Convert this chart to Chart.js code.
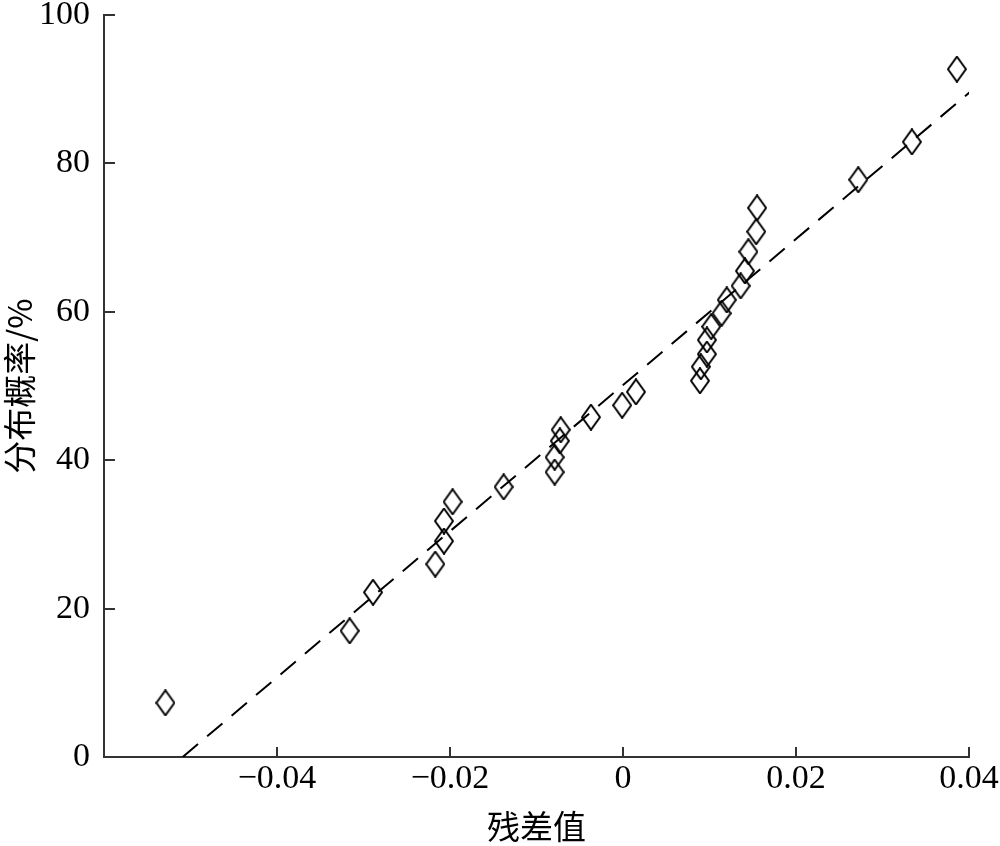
<!DOCTYPE html>
<html>
<head>
<meta charset="utf-8">
<title>残差正态概率图</title>
<script src="https://cdn.jsdelivr.net/npm/chart.js@4/dist/chart.umd.min.js"></script>
<style>
  html, body { margin: 0; padding: 0; background: #fff; }
  #wrap { width: 1000px; height: 846px; }
</style>
</head>
<body>
<div id="wrap"><canvas id="chart"></canvas></div>
<script>
// 残差值（横轴）
const residuals = [
  -0.0529, -0.0316, -0.0289, -0.0217, -0.0207, -0.0207, -0.0197, -0.0138,
  -0.0079, -0.0079, -0.0073, -0.0072, -0.0037, -0.0001, 0.0015, 0.0089,
  0.0090, 0.0097, 0.0097, 0.0102, 0.0114, 0.0120, 0.0136, 0.0141,
  0.0145, 0.0154, 0.0155, 0.0272, 0.0334, 0.0386
];
// 分布概率 %（纵轴）
const probabilities = [
  7.3, 17.0, 22.2, 26.0, 29.1, 31.8, 34.4, 36.4,
  38.4, 40.4, 42.6, 44.1, 45.8, 47.4, 49.2, 50.7,
  52.6, 54.3, 56.2, 58.0, 59.8, 61.6, 63.5, 65.5,
  68.1, 70.8, 74.0, 77.8, 82.9, 92.7
];
// 参考直线两端
const fitX = [-0.0509, 0.0405];
const fitY = [0, 90];

const xTickValues = [-0.04, -0.02, 0, 0.02, 0.04];
const yTickValues = [0, 20, 40, 60, 80, 100];

const tickFont = { family: '"Liberation Serif", "Times New Roman", serif', size: 34 };
const titleFont = { family: '"Noto Sans CJK SC", sans-serif', size: 33 };

// 竖长的菱形标记
function makeDiamond() {
  const c = document.createElement('canvas');
  c.width = 20; c.height = 27;
  const g = c.getContext('2d');
  g.strokeStyle = '#000';
  g.lineWidth = 2;
  g.beginPath();
  g.moveTo(10, 1);
  g.lineTo(19, 13.5);
  g.lineTo(10, 26);
  g.lineTo(1, 13.5);
  g.closePath();
  g.stroke();
  return c;
}

function fmtX(v) {
  if (Math.abs(v) < 1e-9) return '0';
  return (v < 0 ? '\u2212' : '') + Math.abs(v).toFixed(2);
}

const points = residuals.map((x, i) => ({ x: x, y: probabilities[i] }));
const fitLine = fitX.map((x, i) => ({ x: x, y: fitY[i] }));

new Chart(document.getElementById('chart'), {
  type: 'scatter',
  data: {
    datasets: [
      {
        data: fitLine,
        showLine: true,
        borderColor: '#000',
        borderWidth: 2,
        borderDash: [20, 12],
        pointRadius: 0,
        fill: false
      },
      {
        data: points,
        pointStyle: makeDiamond(),
        pointRadius: 12,
        borderColor: '#000'
      }
    ]
  },
  options: {
    responsive: true,
    maintainAspectRatio: false,
    animation: false,
    layout: { padding: { top: 15, right: 31, left: 0, bottom: 0 } },
    plugins: {
      legend: { display: false },
      tooltip: { enabled: false }
    },
    scales: {
      x: {
        type: 'linear',
        min: -0.06,
        max: 0.04,
        afterBuildTicks: s => { s.ticks = xTickValues.map(v => ({ value: v })); },
        afterFit: s => { s.height = 89; s.paddingLeft = 0; s.paddingRight = 0; },
        border: { display: true, color: '#333', width: 2 },
        grid: { drawOnChartArea: false, tickLength: -10, color: '#333', lineWidth: 2 },
        ticks: { color: '#000', font: tickFont, padding: 12, maxRotation: 0, callback: v => fmtX(v) },
        title: { display: true, text: '残差值', color: '#000', font: titleFont, padding: { top: 0, bottom: 0 } }
      },
      y: {
        type: 'linear',
        min: 0,
        max: 100,
        afterBuildTicks: s => { s.ticks = yTickValues.map(v => ({ value: v })); },
        afterFit: s => { s.width = 104; s.paddingTop = 0; s.paddingBottom = 0; },
        border: { display: true, color: '#333', width: 2 },
        grid: { drawOnChartArea: false, tickLength: -11, color: '#333', lineWidth: 2 },
        ticks: { color: '#000', font: tickFont, padding: 25 },
        title: { display: true, text: '分布概率/%', color: '#000', font: titleFont, padding: 0 }
      }
    }
  }
});
</script>
</body>
</html>
